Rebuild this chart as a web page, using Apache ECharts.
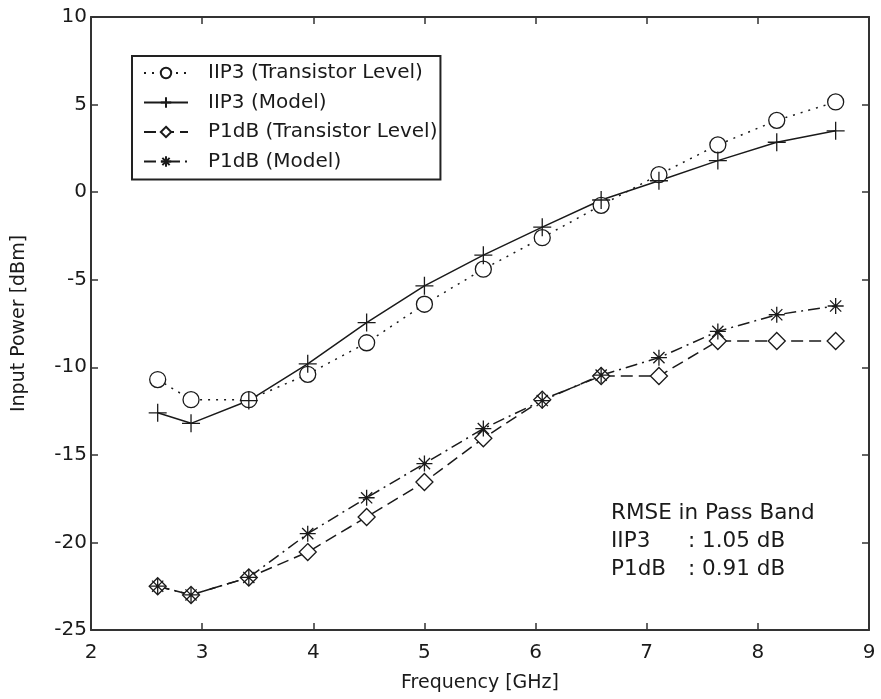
<!DOCTYPE html>
<html>
<head>
<meta charset="utf-8">
<style>
  html, body { margin: 0; padding: 0; background: #fff; }
  #chart { width: 881px; height: 699px; }
</style>
<script src="https://cdn.jsdelivr.net/npm/echarts@6/dist/echarts.min.js"></script>
</head>
<body>
<div id="chart"></div>
<script>
const freq = [2.6, 2.9, 3.42, 3.95, 4.48, 5.0, 5.53, 6.06, 6.59, 7.11, 7.64, 8.17, 8.7];
const iip3Transistor = [-10.7, -11.85, -11.85, -10.4, -8.6, -6.4, -4.4, -2.6, -0.75, 1.0, 2.7, 4.1, 5.15];
const iip3Model = [-12.6, -13.2, -11.9, -9.8, -7.45, -5.35, -3.6, -2.0, -0.45, 0.65, 1.8, 2.85, 3.5];
const p1dbTransistor = [-22.5, -23.0, -22.0, -20.55, -18.55, -16.55, -14.05, -11.85, -10.5, -10.5, -8.5, -8.5, -8.5];
const p1dbModel = [-22.5, -23.0, -22.0, -19.5, -17.45, -15.5, -13.5, -11.9, -10.45, -9.45, -7.95, -7.0, -6.5];

const seriesNames = ["IIP3 (Transistor Level)", "IIP3 (Model)", "P1dB (Transistor Level)", "P1dB (Model)"];
const rmseLines = [["RMSE in Pass Band", ""], ["IIP3", ": 1.05 dB"], ["P1dB", ": 0.91 dB"]];

const ink = "#1a1a1a";
const font = "'DejaVu Sans', 'Liberation Sans', Arial, sans-serif";

const plusPath = "path://M0,-1L0,1M-1,0L1,0";
const starPath = "path://M0,-1L0,1M-1,0L1,0M-0.7,-0.7L0.7,0.7M-0.7,0.7L0.7,-0.7";

function pairs(ys) {
  return freq.map((x, i) => [x, ys[i]]);
}

function makeSeries(name, ys, symbol, size, dash) {
  return {
    name,
    type: "line",
    data: pairs(ys),
    symbol,
    symbolSize: size,
    showAllSymbol: true,
    lineStyle: { color: ink, width: 1.5, type: dash },
    itemStyle: { color: "#fff", borderColor: ink, borderWidth: 1.3 },
    emphasis: { disabled: true },
    z: 3
  };
}

const axisCommon = {
  axisLine: { show: true, onZero: false, lineStyle: { color: "#333", width: 2 } },
  axisTick: { show: true, inside: true, length: 7, lineStyle: { color: "#333", width: 1.5 } },
  splitLine: { show: false }
};

const chart = echarts.init(document.getElementById("chart"));
chart.setOption({
  backgroundColor: "#fff",
  animation: false,
  textStyle: { fontFamily: font },
  grid: { left: 91, right: 12, top: 17, bottom: 69 },
  xAxis: [
    Object.assign({
      type: "value", min: 2, max: 9, interval: 1, position: "bottom",
      name: "Frequency [GHz]", nameLocation: "middle", nameGap: 44,
      nameTextStyle: { color: ink, fontSize: 19, fontFamily: font },
      axisLabel: { color: ink, fontSize: 20, margin: 13, fontFamily: font }
    }, axisCommon),
    Object.assign({
      type: "value", min: 2, max: 9, interval: 1, position: "top",
      axisLabel: { show: false }
    }, axisCommon)
  ],
  yAxis: [
    Object.assign({
      type: "value", min: -25, max: 10, interval: 5, position: "left",
      name: "Input Power [dBm]", nameLocation: "middle", nameGap: 62,
      nameTextStyle: { color: ink, fontSize: 19, fontFamily: font },
      axisLabel: { color: ink, fontSize: 20, margin: 4, fontFamily: font }
    }, axisCommon),
    Object.assign({
      type: "value", min: -25, max: 10, interval: 5, position: "right",
      axisLabel: { show: false }
    }, axisCommon)
  ],
  legend: {
    orient: "vertical",
    left: 132,
    top: 56,
    itemWidth: 44,
    itemHeight: 13,
    itemGap: 9.5,
    padding: [7, 3, 8, 11],
    borderColor: "#222",
    borderWidth: 2,
    backgroundColor: "#fff",
    textStyle: { color: ink, fontSize: 20, fontFamily: font, padding: [0, 0, 0, 15] },
    data: seriesNames
  },
  graphic: rmseLines.flatMap((row, i) => [
    { type: "text", left: 611, top: 502 + i * 28, style: { text: row[0], fill: ink, font: `21.5px ${font}` } },
    { type: "text", left: 688, top: 502 + i * 28, style: { text: row[1], fill: ink, font: `21.5px ${font}` } }
  ]),
  series: [
    makeSeries(seriesNames[0], iip3Transistor, "circle", 16, [2, 6]),
    makeSeries(seriesNames[1], iip3Model, plusPath, 18, "solid"),
    makeSeries(seriesNames[2], p1dbTransistor, "diamond", 17, [12, 6]),
    makeSeries(seriesNames[3], p1dbModel, starPath, 16, [12, 5, 2, 5])
  ]
});
</script>
</body>
</html>
